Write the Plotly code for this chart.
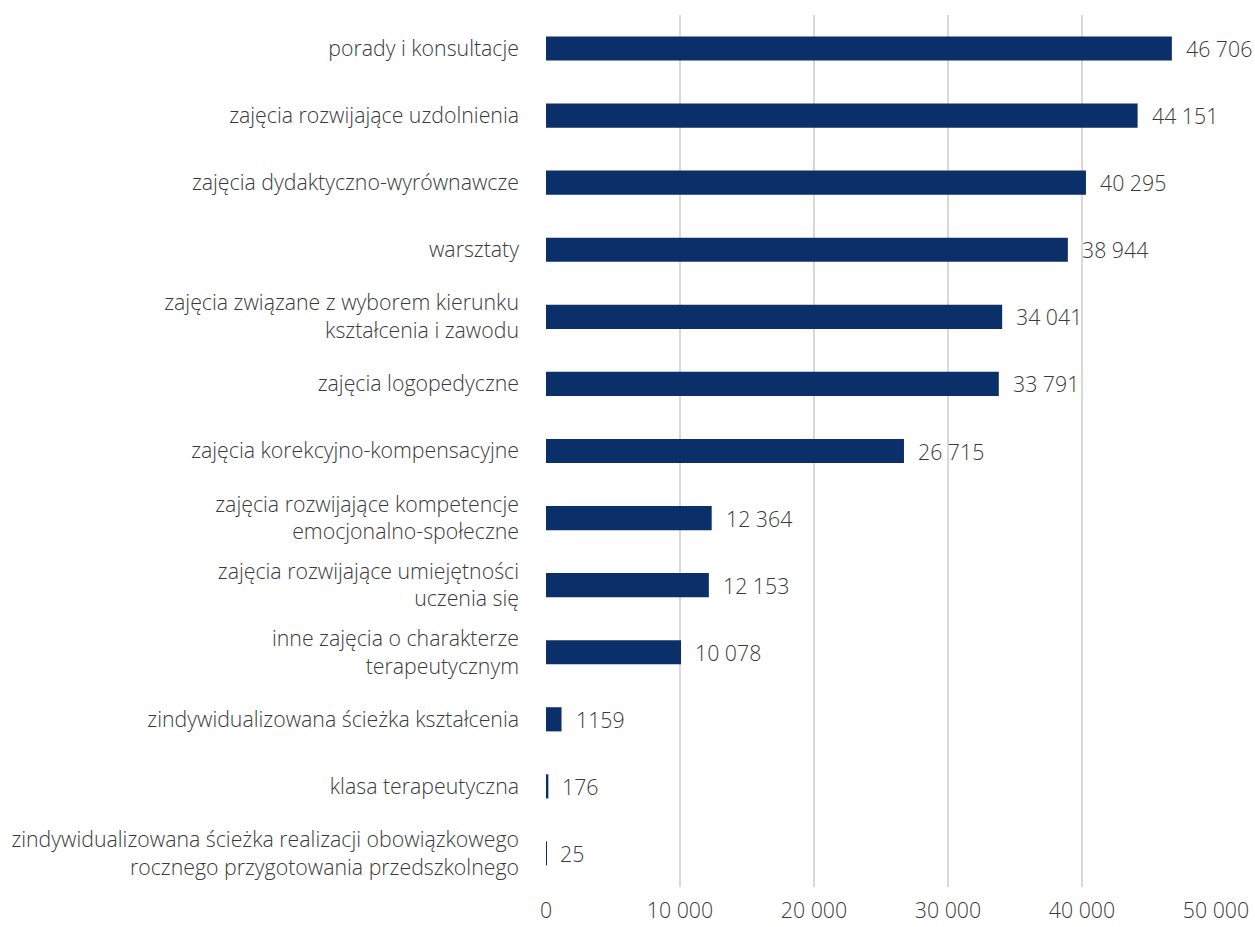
import plotly.graph_objects as go

categories = [
    "porady i konsultacje",
    "zajęcia rozwijające uzdolnienia",
    "zajęcia dydaktyczno-wyrównawcze",
    "warsztaty",
    "zajęcia związane z wyborem kierunku<br>kształcenia i zawodu",
    "zajęcia logopedyczne",
    "zajęcia korekcyjno-kompensacyjne",
    "zajęcia rozwijające kompetencje<br>emocjonalno-społeczne",
    "zajęcia rozwijające umiejętności<br>uczenia się",
    "inne zajęcia o charakterze<br>terapeutycznym",
    "zindywidualizowana ścieżka kształcenia",
    "klasa terapeutyczna",
    "zindywidualizowana ścieżka realizacji obowiązkowego<br>rocznego przygotowania przedszkolnego",
]
values = [46706, 44151, 40295, 38944, 34041, 33791, 26715, 12364, 12153, 10078, 1159, 176, 25]
tick_vals = [0, 10000, 20000, 30000, 40000, 50000]
tick_text = ["0", "10 000", "20 000", "30 000", "40 000", "50 000"]


def fmt(v):
    # Polish style: space as thousands separator only from 5 digits up
    return f"{v:,}".replace(",", " ") if v >= 10000 else str(v)


FONT = dict(family="Open Sans", size=21.3, color="#3a3a3a", weight=300)

fig = go.Figure(
    go.Bar(
        y=categories,
        x=values,
        orientation="h",
        marker=dict(color="#0B2F69", line=dict(width=0)),
        hoverinfo="skip",
    )
)

for cat, v in zip(categories, values):
    fig.add_annotation(
        x=v, y=cat, text=fmt(v), showarrow=False,
        xanchor="left", xshift=12, yanchor="middle",
        font=FONT,
    )

fig.update_layout(
    width=1255, height=927,
    margin=dict(l=546, r=39, t=15, b=40, autoexpand=False),
    paper_bgcolor="white", plot_bgcolor="white",
    bargap=0.64,
    showlegend=False,
    font=FONT,
    xaxis=dict(
        range=[0, 50000],
        tickvals=tick_vals, ticktext=tick_text,
        showgrid=True, gridcolor="#d9d9d9", gridwidth=1.5,
        zeroline=False, showline=False, ticks="",
        tickfont=FONT, ticklabelstandoff=9, automargin=False,
    ),
    yaxis=dict(
        autorange="reversed",
        showgrid=False, zeroline=False, showline=False,
        ticks="", tickfont=FONT, ticklabelstandoff=26, automargin=False,
    ),
)

fig.write_html("out.html")
